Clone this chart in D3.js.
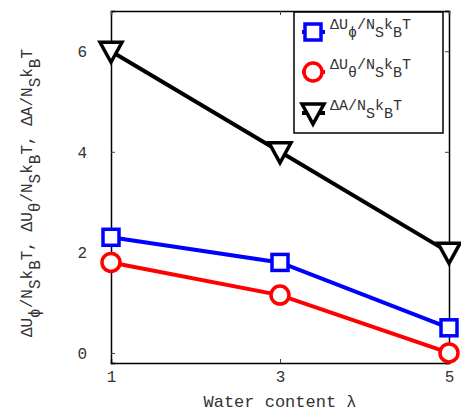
<!DOCTYPE html>
<html>
<head>
<meta charset="utf-8">
<script src="https://cdn.jsdelivr.net/npm/d3@7"></script>
<style>
  body { margin: 0; background: #fff; }
  text { font-family: "Liberation Mono", "DejaVu Sans Mono", monospace; fill: #333; }
</style>
</head>
<body>
<script>
// water content values
var lambda = [1, 3, 5];
var dUphi = [2.3, 1.8, 0.5];
var dUtheta = [1.8, 1.15, 0.0];
var dA = [6.0, 4.0, 2.0];
var xTicks = [1, 3, 5];
var yTicks = [0, 2, 4, 6];

var width = 461, height = 416;
var mLeft = 111, mRight = 449, mTop = 11, mBottom = 363;

var svg = d3.select("body").append("svg")
  .attr("width", width)
  .attr("height", height);

var x = d3.scaleLinear().domain([1, 5]).range([mLeft, mRight]);
var y = d3.scaleLinear().domain([-0.2, 6.8]).range([mBottom, mTop]);

// axes with inward ticks
var xAxis = svg.append("g")
  .attr("transform", "translate(0," + mBottom + ")")
  .call(d3.axisBottom(x).tickValues(xTicks).tickSize(-4).tickPadding(8).tickFormat(d3.format("d")));
var yAxis = svg.append("g")
  .attr("transform", "translate(" + mLeft + ",0)")
  .call(d3.axisLeft(y).tickValues(yTicks).tickSize(-4).tickPadding(24).tickFormat(d3.format("d")));
svg.append("g")
  .attr("transform", "translate(" + mRight + ",0)")
  .call(d3.axisRight(y).tickValues(yTicks).tickSize(-4).tickFormat(""));
svg.append("g")
  .attr("transform", "translate(0," + mTop + ")")
  .call(d3.axisTop(x).tickValues(xTicks).tickSize(-4).tickFormat(""));

svg.selectAll(".domain").attr("stroke", "#000").attr("stroke-width", 1.5);
svg.selectAll(".tick line").attr("stroke", "#444");
svg.selectAll(".tick text").style("font-size", "16px").attr("fill", "#333");
yAxis.selectAll(".tick text").attr("dy", "0.35em");

var series = [
  { vals: dUphi, color: "#0000ff", marker: "square" },
  { vals: dUtheta, color: "#ff0000", marker: "circle" },
  { vals: dA, color: "#000000", marker: "triangle" }
];

var line = d3.line()
  .x(function(d, i) { return x(lambda[i]); })
  .y(function(d) { return y(d); });

function drawMarker(g, type, color) {
  if (type == "square") {
    g.append("rect").attr("x", -8).attr("y", -8).attr("width", 16).attr("height", 16)
      .attr("fill", "#fff").attr("stroke", color).attr("stroke-width", 3.5);
  } else if (type == "circle") {
    g.append("circle").attr("r", 9)
      .attr("fill", "#fff").attr("stroke", color).attr("stroke-width", 3.5);
  } else {
    g.append("path").attr("d", "M-11,-9L11,-9L0,11Z")
      .attr("fill", "#fff").attr("stroke", color).attr("stroke-width", 3.5)
      .attr("stroke-linejoin", "miter");
  }
}

series.forEach(function(s) {
  svg.append("path")
    .datum(s.vals)
    .attr("d", line)
    .attr("fill", "none")
    .attr("stroke", s.color)
    .attr("stroke-width", 4);
  s.vals.forEach(function(v, i) {
    var g = svg.append("g").attr("transform", "translate(" + x(lambda[i]) + "," + y(v) + ")");
    drawMarker(g, s.marker, s.color);
  });
});

// legend
var legend = svg.append("g");
legend.append("rect")
  .attr("x", 294).attr("y", 12).attr("width", 149).attr("height", 121)
  .attr("fill", "#fff").attr("stroke", "#000").attr("stroke-width", 1.5);

var legLabels = [
  ["ΔU", "ϕ", "/N", "S", "k", "B", "T"],
  ["ΔU", "θ", "/N", "S", "k", "B", "T"],
  ["ΔA/N", "S", "k", "B", "T"]
];
var legY = [32, 72, 113];

series.forEach(function(s, i) {
  legend.append("line")
    .attr("x1", 302).attr("x2", 325).attr("y1", legY[i]).attr("y2", legY[i])
    .attr("stroke", s.color).attr("stroke-width", 4);
  var g = legend.append("g").attr("transform", "translate(313," + legY[i] + ")");
  drawMarker(g, s.marker, s.color);
  var t = legend.append("text").attr("x", 330).attr("y", legY[i] - 3).style("font-size", "15px");
  legLabels[i].forEach(function(p, j) {
    var sub = (j % 2 == 1);
    t.append("tspan").text(p).attr("dy", sub ? 8 : (j > 0 ? -8 : 0));
  });
});

// axis labels
svg.append("text")
  .attr("x", 280).attr("y", 407)
  .attr("text-anchor", "middle")
  .style("font-size", "17px")
  .text("Water content λ");

var yl = svg.append("text")
  .attr("transform", "translate(32,193) rotate(-90)")
  .attr("text-anchor", "middle")
  .style("font-size", "16px");
var yParts = [
  ["ΔU", 0], ["ϕ", 1], ["/N", 0], ["S", 1], ["k", 0], ["B", 1], ["T,  ΔU", 0], ["θ", 1],
  ["/N", 0], ["S", 1], ["k", 0], ["B", 1], ["T,  ΔA/N", 0], ["S", 1], ["k", 0], ["B", 1], ["T", 0]
];
var prev = 0;
yParts.forEach(function(p) {
  var dy = p[1] ? 8 : (prev ? -8 : 0);
  yl.append("tspan").text(p[0]).attr("dy", dy);
  prev = p[1];
});
</script>
</body>
</html>
